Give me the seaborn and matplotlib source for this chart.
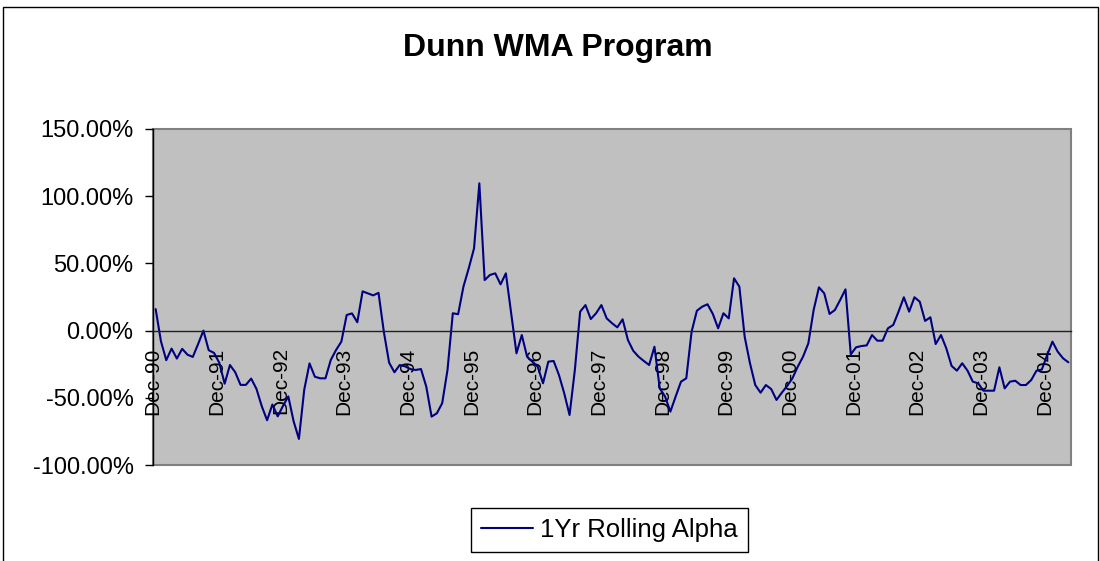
import pandas as pd
import matplotlib.pyplot as plt
import matplotlib.patches as mpatches
import seaborn as sns

# 1Yr rolling alpha, monthly, Dec-90 .. Apr-05 (percent)
alpha_pct = [
    16.0, -8.0, -22.0, -13.4, -20.8, -13.6, -17.9, -19.6, -10.0, 0.0,
    -14.6, -16.6, -24.0, -39.5, -25.6, -31.0, -40.4, -40.4, -35.7, -43.4,
    -56.3, -66.7, -55.0, -63.8, -56.0, -49.0, -67.5, -80.6, -44.0, -24.4,
    -34.3, -35.5, -35.5, -21.9, -14.4, -8.2, 11.6, 12.8, 6.2, 29.2,
    27.7, 26.2, 28.1, -0.8, -23.9, -31.0, -25.6, -26.6, -28.6, -29.3,
    -28.6, -41.7, -64.0, -61.5, -54.0, -29.3, 12.9, 12.2, 32.7, 46.3,
    61.2, 109.6, 37.6, 41.4, 42.6, 34.4, 42.6, 12.9, -16.9, -3.3,
    -19.4, -23.1, -26.9, -39.2, -23.1, -22.6, -33.0, -46.7, -62.8, -29.3,
    14.1, 19.0, 8.6, 12.9, 19.0, 9.1, 5.5, 2.4, 8.4, -7.0,
    -15.0, -19.4, -22.6, -25.6, -12.0, -43.0, -49.0, -60.3, -49.0, -38.0,
    -35.5, -0.8, 14.8, 17.8, 19.6, 12.4, 1.7, 12.9, 9.1, 38.9,
    32.7, -4.5, -24.3, -40.5, -46.2, -40.5, -43.5, -51.6, -46.2, -41.2,
    -35.5, -26.9, -19.4, -9.5, 15.3, 32.2, 27.7, 12.4, 15.3, 22.8,
    30.7, -17.7, -12.4, -11.5, -11.0, -3.3, -7.5, -7.5, 1.7, 4.2,
    14.1, 24.8, 14.1, 24.8, 21.5, 7.2, 9.9, -10.0, -3.3, -13.2,
    -26.3, -29.8, -24.3, -29.8, -38.0, -39.2, -44.7, -44.7, -44.7, -27.3,
    -43.0, -38.0, -37.3, -40.5, -40.5, -36.8, -29.8, -29.0, -18.2, -8.2,
    -15.7, -20.6, -23.6,
]
year_labels = ['Dec-90', 'Dec-91', 'Dec-92', 'Dec-93', 'Dec-94', 'Dec-95',
               'Dec-96', 'Dec-97', 'Dec-98', 'Dec-99', 'Dec-00', 'Dec-01',
               'Dec-02', 'Dec-03', 'Dec-04']
y_ticks = [-100, -50, 0, 50, 100, 150]

df = pd.DataFrame({'month': range(len(alpha_pct)), 'alpha': alpha_pct})

sns.set_style('white')
plt.rcParams['font.family'] = ['Liberation Sans', 'DejaVu Sans']
plt.rcParams['text.color'] = 'black'
plt.rcParams['xtick.color'] = 'black'
plt.rcParams['ytick.color'] = 'black'
plt.rcParams['axes.labelcolor'] = 'black'

fig = plt.figure(figsize=(11, 5.61), dpi=100)
ax = fig.add_axes([153 / 1100, 1 - 465 / 561, 918 / 1100, 336 / 561])
ax.set_facecolor('#C0C0C0')

sns.lineplot(data=df, x='month', y='alpha', ax=ax, color='#000080',
             linewidth=1.5, label='1Yr Rolling Alpha', legend=False)

# category axis crosses at zero, Excel style (set before tick labels,
# moving the spine resets the ticks)
for side in ['top', 'right']:
    ax.spines[side].set_visible(False)
ax.spines['bottom'].set_position(('data', 0))
ax.spines['bottom'].set_color('#202020')
ax.spines['bottom'].set_linewidth(1.0)
ax.spines['left'].set_color('black')
ax.spines['left'].set_linewidth(1.0)

ax.set_xlim(-0.5, len(alpha_pct) - 0.5)
ax.set_ylim(-100, 150)
ax.set_yticks(y_ticks)
ax.set_yticklabels([f'{v:.2f}%' for v in y_ticks], fontsize=17)
ax.set_xticks([12 * k - 0.5 for k in range(len(year_labels))])
ax.set_xticklabels(year_labels, rotation=90, fontsize=15, va='top', ha='center')
ax.set_xlabel('')
ax.set_ylabel('')
ax.tick_params(axis='x', direction='out', length=4, width=1, pad=8, color='#202020')
ax.tick_params(axis='y', direction='out', length=6, width=1, pad=8, left=True)
ax.add_patch(mpatches.Rectangle((0, 0), 1, 1, transform=ax.transAxes, fill=False,
                                edgecolor='#808080', linewidth=1.5, zorder=0.5,
                                clip_on=False))

fig.text(558 / 1100, 1 - 48 / 561, 'Dunn WMA Program', ha='center', va='center',
         fontsize=23, fontweight='bold')

handles, labels = ax.get_legend_handles_labels()
fig.legend(handles, labels, loc='center', bbox_to_anchor=(609.5 / 1100, 1 - 530 / 561),
           fontsize=18.5, frameon=True, fancybox=False, edgecolor='black',
           framealpha=1, handlelength=2.0, handletextpad=0.3, borderpad=0.4)

# outer chart border
fig.add_artist(mpatches.Rectangle((2.5 / 1100, -0.01), 1095 / 1100, 1.01 - 7 / 561,
                                  transform=fig.transFigure, fill=False,
                                  edgecolor='black', linewidth=1.0))

fig.savefig('out.png', dpi=100)
